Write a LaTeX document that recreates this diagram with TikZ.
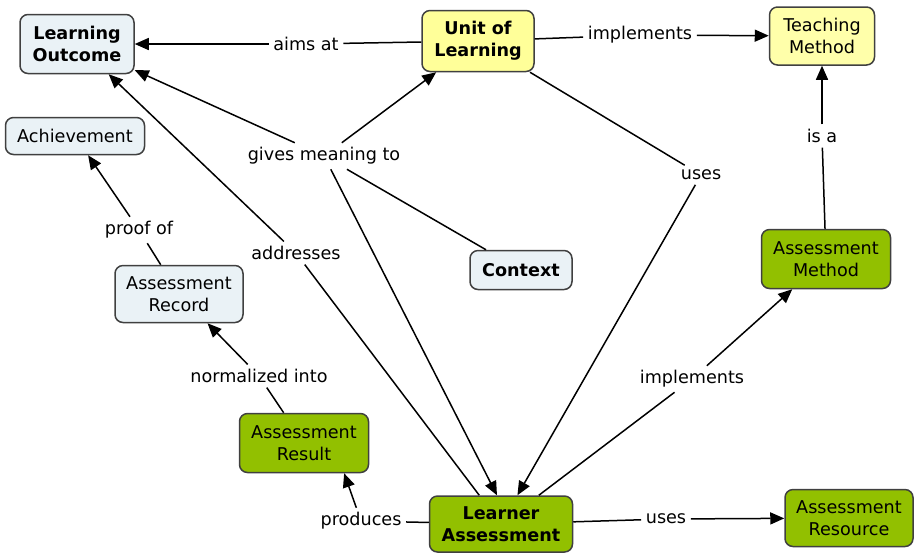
\documentclass[tikz,border=0pt]{standalone}
\usepackage{fontspec}
\setmainfont{DejaVu Sans}
\usetikzlibrary{positioning,arrows.meta}
\definecolor{cpale}{RGB}{234,242,246}
\definecolor{cyellow}{RGB}{255,255,153}
\definecolor{cyellowl}{RGB}{255,255,170}
\definecolor{cgreen}{RGB}{146,192,0}

\begin{document}
\begin{tikzpicture}[x=0.5pt,y=-0.5pt,>={Triangle[length=7pt,width=6pt]},
  concept/.style={draw=black!75,line width=0.75pt,rounded corners=4pt,align=center,
    inner xsep=3pt,inner ysep=2pt,minimum height=29pt,font=\fontsize{8.8}{11.2}\selectfont},
  link/.style={fill=white,inner sep=2pt,font=\fontsize{8.8}{10.5}\selectfont},
  every path/.style={line width=0.75pt}]
\useasboundingbox (0,0) rectangle (915,554);

\node[concept,fill=cpale,minimum width=57pt,minimum height=29.5pt,font=\fontsize{8.8}{11.2}\selectfont\bfseries] (LO) at (77,44) {Learning\\Outcome};
\node[concept,fill=cyellow,minimum width=56pt,minimum height=30.5pt,font=\fontsize{8.8}{11.2}\selectfont\bfseries] (UL) at (478,41) {Unit of\\Learning};
\node[concept,fill=cyellowl,minimum width=52.5pt] (TM) at (822,36) {Teaching\\Method};
\node[concept,fill=cpale,minimum width=69.5pt,minimum height=18.5pt] (ACH) at (75,136) {Achievement};
\node[concept,fill=cpale,minimum width=51pt,minimum height=19.5pt,font=\fontsize{8.8}{11.2}\selectfont\bfseries] (CTX) at (521,270) {Context};
\node[concept,fill=cpale,minimum width=64pt,minimum height=28.5pt] (AREC) at (179,294) {Assessment\\Record};
\node[concept,fill=cgreen,minimum width=64.5pt,minimum height=29.5pt] (AM) at (826,259) {Assessment\\Method};
\node[concept,fill=cgreen,minimum width=64.5pt,minimum height=29.5pt] (ARES) at (304,443) {Assessment\\Result};
\node[concept,fill=cgreen,minimum width=71.5pt,minimum height=28pt,font=\fontsize{8.8}{11.2}\selectfont\bfseries] (LA) at (501,524) {Learner\\Assessment};
\node[concept,fill=cgreen,minimum width=64pt,minimum height=28.5pt] (ARSC) at (849,518) {Assessment\\Resource};

\node[link] (aims) at (306,44) {aims at};
\node[link] (impl1) at (640,35) {implements};
\node[link] (gives) at (324,156) {gives meaning to};
\node[link] (uses1) at (701,175) {uses};
\node[link] (isa) at (822,136) {is a};
\node[link] (proof) at (139,230) {proof of};
\node[link] (addr) at (296,253) {addresses};
\node[link] (norm) at (259,376) {normalized into};
\node[link] (impl2) at (692,379) {implements};
\node[link] (prod) at (361,521) {produces};
\node[link] (uses2) at (666,519) {uses};

\draw (UL) -- (aims);
\draw[->] (aims) -- (LO);
\draw (UL) -- (impl1);
\draw[->] (impl1) -- (TM);
\draw (CTX) -- (gives);
\draw[->] (gives) -- (LO);
\draw[->] (gives) -- (UL);
\draw[->] (gives) -- (LA.98);
\draw (UL) -- (uses1);
\draw[->] (uses1) -- (LA);
\draw (AM) -- (isa);
\draw[->] (isa) -- (TM);
\draw (AREC) -- (proof);
\draw[->] (proof) -- (ACH);
\draw (LA) -- (addr);
\draw[->] (addr) -- (LO);
\draw (ARES) -- (norm);
\draw[->] (norm) -- (AREC);
\draw (LA) -- (impl2);
\draw[->] (impl2) -- (AM);
\draw (LA) -- (prod);
\draw[->] (prod) -- (ARES.-37);
\draw (LA) -- (uses2);
\draw[->] (uses2) -- (ARSC);
\end{tikzpicture}
\end{document}
